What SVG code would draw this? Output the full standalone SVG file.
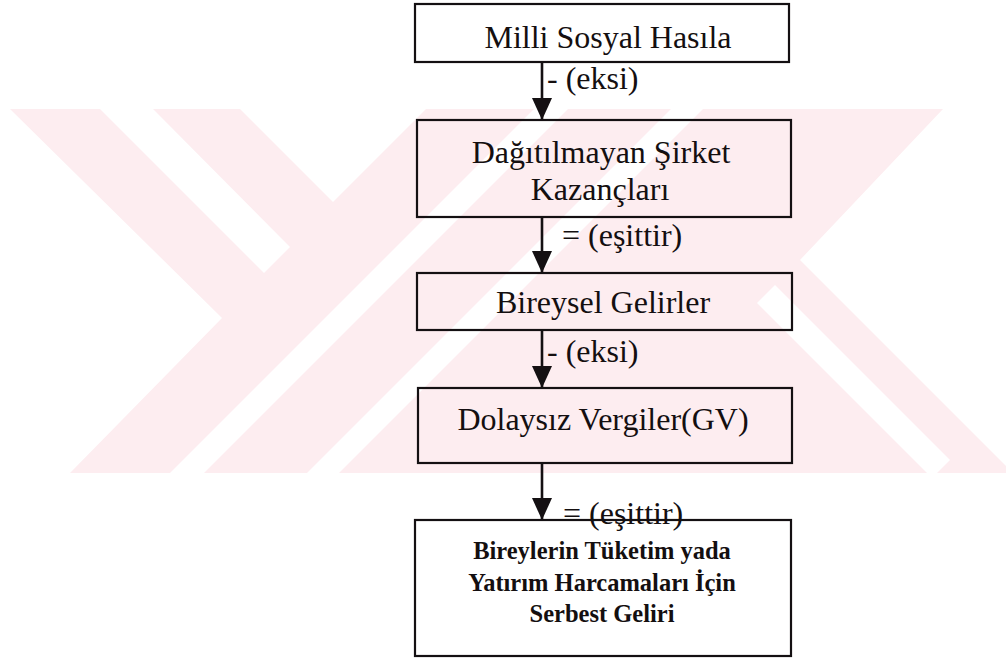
<svg xmlns="http://www.w3.org/2000/svg" width="1006" height="658" viewBox="0 0 1006 658">
<style>
.box{fill:none;stroke:#141012;stroke-width:2.2}
.t{font-family:"Liberation Serif","Times New Roman",serif;font-size:32px;fill:#140f10;text-anchor:middle}
.lbl{font-family:"Liberation Serif","Times New Roman",serif;font-size:32px;fill:#140f10}
.tb{font-family:"Liberation Serif","Times New Roman",serif;font-size:24.5px;font-weight:bold;fill:#140f10;text-anchor:middle}
.conn{stroke:#141012;stroke-width:2.6;fill:none}
.wm{fill:#fdedf0}
.wh{fill:#ffffff}
</style>
<defs>
<marker id="ah" markerUnits="userSpaceOnUse" markerWidth="22" markerHeight="22" refX="22" refY="10" orient="auto">
<path d="M0,0 L22,10 L0,20 Z" fill="#141012"/>
</marker>
<clipPath id="band"><rect x="0" y="109" width="1006" height="364"/></clipPath>
</defs>
<rect x="0" y="0" width="1006" height="658" fill="#ffffff"/>
<g id="watermark" clip-path="url(#band)">
<polygon class="wm" points="10,109 240,109 333,202 426,109 943,109 800,260 1006,466 1006,473 70,473 222,318"/>
<polygon class="wh" points="100,109 153,109 290,247 264,273"/>
<polygon class="wh" points="170,473 204,473 568,109 534,109"/>
<polygon class="wh" points="307,473 339,473 703,109 671,109"/>
<polygon class="wh" points="757,303 775,285 950,460 932,478"/>
</g>
<g id="connectors">
<line class="conn" x1="542" y1="62" x2="542" y2="120" marker-end="url(#ah)"/>
<line class="conn" x1="542" y1="217" x2="542" y2="273" marker-end="url(#ah)"/>
<line class="conn" x1="542" y1="330" x2="542" y2="388" marker-end="url(#ah)"/>
<line class="conn" x1="542" y1="463" x2="542" y2="520" marker-end="url(#ah)"/>
<text class="lbl" x="547" y="89">- (eksi)</text>
<text class="lbl" x="562" y="246">= (eşittir)</text>
<text class="lbl" x="547" y="362">- (eksi)</text>
<text class="lbl" x="563" y="524">= (eşittir)</text>
</g>
<g id="n1">
<rect class="box" x="415" y="4" width="374" height="58"/>
<text class="t" x="608" y="48">Milli Sosyal Hasıla</text>
</g>
<g id="n2">
<rect class="box" x="417" y="120" width="374" height="97"/>
<text class="t" x="601" y="163">Dağıtılmayan Şirket</text>
<text class="t" x="600" y="200">Kazançları</text>
</g>
<g id="n3">
<rect class="box" x="417" y="273" width="375" height="57"/>
<text class="t" x="603" y="313">Bireysel Gelirler</text>
</g>
<g id="n4">
<rect class="box" x="418" y="388" width="374" height="75"/>
<text class="t" x="603" y="430">Dolaysız Vergiler(GV)</text>
</g>
<g id="n5">
<rect class="box" x="415" y="520" width="376" height="136"/>
<text class="tb" x="602" y="559">Bireylerin Tüketim yada</text>
<text class="tb" x="602" y="591">Yatırım Harcamaları İçin</text>
<text class="tb" x="602" y="622">Serbest Geliri</text>
</g>
</svg>
